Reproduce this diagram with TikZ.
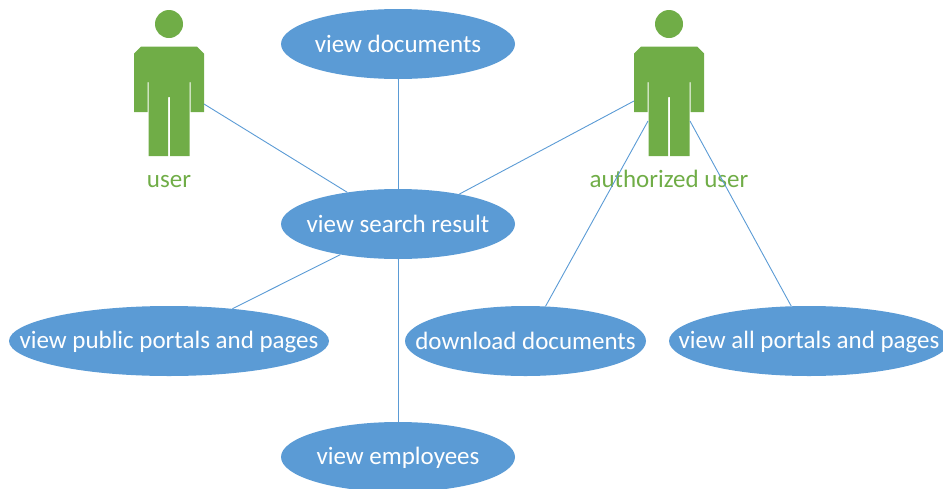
\documentclass[tikz,border=0pt]{standalone}
\usepackage{fontspec}
\setmainfont{Carlito}
\usetikzlibrary{shapes.geometric}
\definecolor{ublue}{HTML}{5B9BD5}
\definecolor{ugreen}{HTML}{70AD47}
\newcommand{\flatlabel}[1]{\makebox[0pt][c]{\rule[-4pt]{0pt}{24pt}#1}}
\tikzset{
  usecase/.style={ellipse,fill=ublue,text=white,inner sep=0pt,minimum height=70pt,font=\fontsize{25}{28}\selectfont},
  link/.style={draw=ublue,line width=0.9pt},
  actorlabel/.style={text=ugreen,inner sep=0pt,font=\fontsize{25}{28}\selectfont},
  actorbody/.style={fill=ugreen,draw=none},
}
\newcommand{\actorfig}[1]{%
  \begin{scope}[shift={(#1,0)}]
    \fill[actorbody] (0,24) circle (14);
    \fill[actorbody] (-28,46.5) -- (28,46.5) -- (35,53.5) -- (35,112) -- (21.5,112) -- (21.5,82) -- (20.5,82) -- (20.5,156) -- (1,156) -- (1,97) -- (-1,97) -- (-1,156) -- (-20.5,156) -- (-20.5,82) -- (-21.5,82) -- (-21.5,112) -- (-35,112) -- (-35,53.5) -- cycle;
  \end{scope}}
\begin{document}
\begin{tikzpicture}[x=1pt,y=-1pt]
\useasboundingbox (0,0) rectangle (943,488);
\clip (0,0) rectangle (943,488);
\actorfig{169}
\actorfig{669}
\node[usecase,minimum width=234pt] (docs) at (398,44) {\flatlabel{view documents}};
\node[usecase,minimum width=234pt] (search) at (398,224) {\flatlabel{view search result}};
\node[usecase,minimum width=320pt] (public) at (169,341) {\flatlabel{view public portals and pages}};
\node[usecase,minimum width=241pt] (download) at (525.5,341) {\flatlabel{download documents}};
\node[usecase,minimum width=280pt] (allp) at (809,341) {\flatlabel{view all portals and pages}};
\node[usecase,minimum width=234pt] (emp) at (398,457) {\flatlabel{view employees}};
\node[actorlabel] (user) at (169,179) {\flatlabel{user}};
\node[actorlabel] (auth) at (669,179) {\flatlabel{authorized user}};
\coordinate (userhand) at (204,104);
\coordinate (authhand) at (634,101);
\coordinate (authlegl) at (648,121);
\coordinate (authlegr) at (690,121);
\draw[link] (docs.south) -- (search.north);
\draw[link] (search.south) -- (emp.north);
\draw[link] (userhand) -- (search.148.2);
\draw[link] (authhand) -- (search.26.6);
\draw[link] (authlegl) -- (download.60.9);
\draw[link] (authlegr) -- (allp.117.2);
\draw[link] (search.208.1) -- (public.27.6);
\end{tikzpicture}
\end{document}
